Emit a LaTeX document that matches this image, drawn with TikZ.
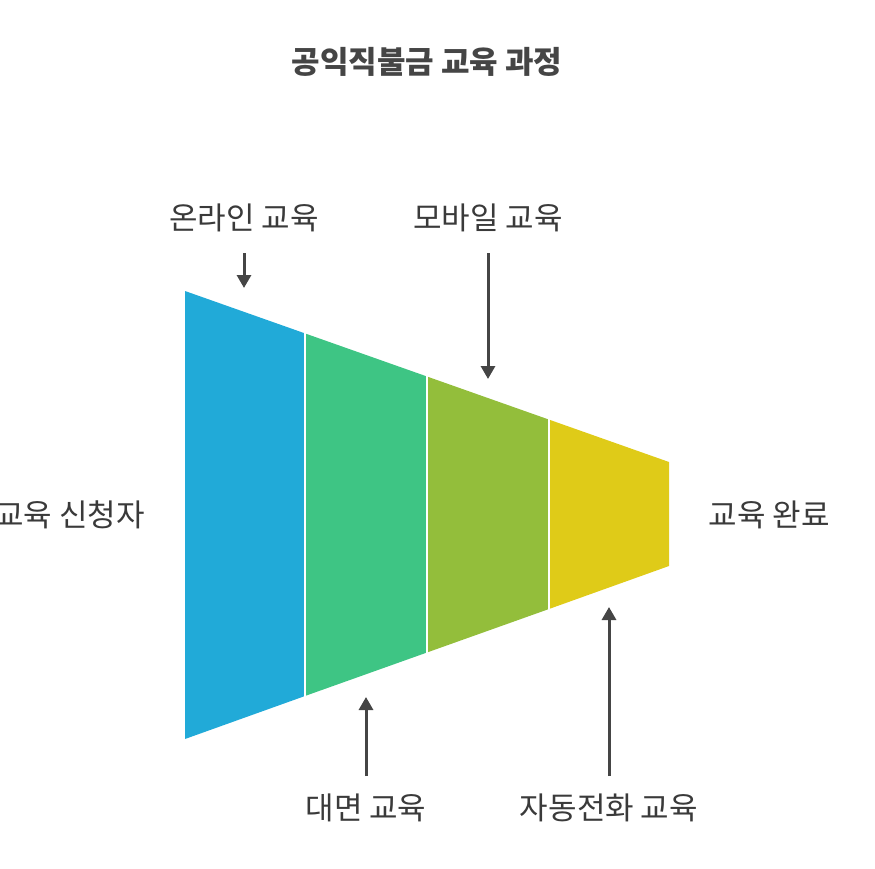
\documentclass[tikz,border=0pt]{standalone}
\usepackage{fontspec}
\setmainfont{Noto Sans CJK KR}
\usetikzlibrary{arrows.meta}
\definecolor{segA}{HTML}{21AAD8}
\definecolor{segB}{HTML}{3EC584}
\definecolor{segC}{HTML}{93BE3B}
\definecolor{segD}{HTML}{DFCB18}
\definecolor{ink}{HTML}{454545}
\definecolor{txt}{HTML}{3A3A3A}
\begin{document}
\begin{tikzpicture}[x=1pt, y=-1pt, line join=round,
  lbl/.style={anchor=center, inner sep=0pt, text=txt, font=\fontsize{31}{37}\selectfont},
  ttl/.style={anchor=center, inner sep=0pt, text=ink, font=\fontsize{31}{37}\selectfont\bfseries}]
  \def\arr{-{Triangle[width=14pt,length=13pt]}}
  % 캔버스 고정: 왼쪽 라벨이 잘리도록 먼저 지정
  \path[use as bounding box] (0,0) rectangle (875,869);

  % ==== 깔때기 (네 구간) ====
  \fill[segA] (185,291)   -- (305,333.4) -- (305,696)   -- (185,739) -- cycle;
  \fill[segB] (305,333.4) -- (427,376.5) -- (427,652.5) -- (305,696) -- cycle;
  \fill[segC] (427,376.5) -- (549,419.6) -- (549,609)   -- (427,652.5) -- cycle;
  \fill[segD] (549,419.6) -- (669,462)   -- (669,566)   -- (549,609) -- cycle;
  % 구간 사이 흰 틈
  \foreach \x in {305,427,549}
    \draw[white, line width=2.6pt] (\x,300) -- (\x,720);

  % ==== 제목 ====
  \node[ttl] (title) at (427,62) {공익직불금 교육 과정};

  % ==== 라벨 ====
  \node[lbl] (lblStart)  at (70,515)  {교육 신청자};
  \node[lbl] (lblEnd)    at (769,515) {교육 완료};
  \node[lbl] (lblOnline) at (244,218) {온라인 교육};
  \node[lbl] (lblMobile) at (488,218) {모바일 교육};
  \node[lbl] (lblFace)   at (366,808) {대면 교육};
  \node[lbl] (lblPhone)  at (609,808) {자동전화 교육};

  % ==== 화살표 ====
  \coordinate (tOnline) at (244,253);  \coordinate (hOnline) at (244,288);
  \coordinate (tMobile) at (488,253);  \coordinate (hMobile) at (488,379);
  \coordinate (tFace)   at (366,776);  \coordinate (hFace)   at (366,697);
  \coordinate (tPhone)  at (609,776);  \coordinate (hPhone)  at (609,607);
  \draw[ink, line width=3pt, \arr] (tOnline) -- (hOnline);
  \draw[ink, line width=3pt, \arr] (tMobile) -- (hMobile);
  \draw[ink, line width=3pt, \arr] (tFace)   -- (hFace);
  \draw[ink, line width=3pt, \arr] (tPhone)  -- (hPhone);
\end{tikzpicture}
\end{document}
